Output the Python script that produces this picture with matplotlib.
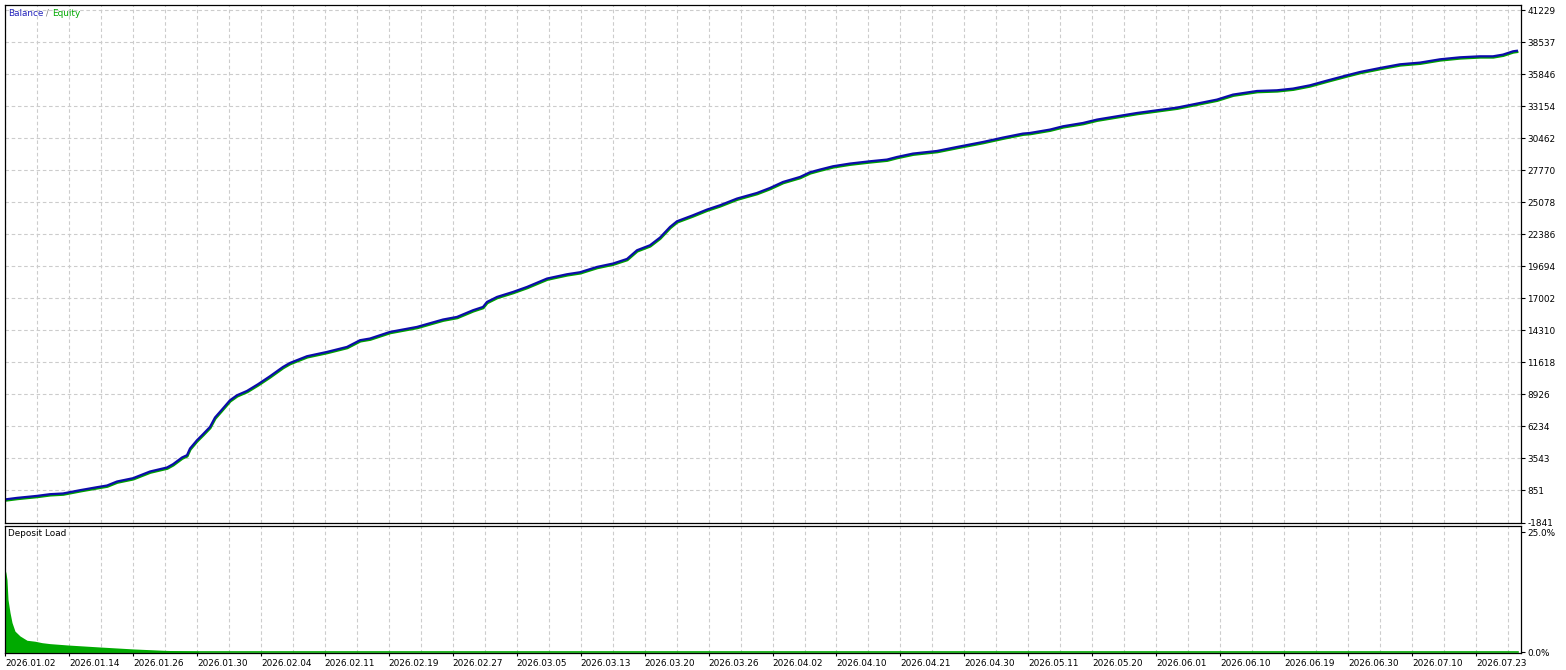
import numpy as np
import matplotlib
matplotlib.use("Agg")
import matplotlib.pyplot as plt
from matplotlib.transforms import ScaledTranslation

# ---------------- data ----------------
deal_no = [0, 12, 22, 32, 45, 58, 75, 92, 102, 112, 128, 145, 162, 168, 177, 182, 185,
           192, 198, 205, 210, 217, 225, 232, 242, 253, 265, 278, 285, 302, 322, 342,
           355, 365, 385, 412, 438, 452, 468, 478, 482, 492, 508, 522, 542, 562, 575,
           592, 608, 622, 632, 645, 655, 665, 672, 688, 702, 715, 732, 752, 765, 778,
           795, 805, 815, 828, 845, 865, 882, 892, 908, 932, 952, 978, 998, 1018,
           1025, 1045, 1058, 1078, 1092, 1112, 1132, 1152, 1172, 1192, 1212, 1228,
           1252, 1272, 1288, 1305, 1322, 1342, 1355, 1375, 1395, 1415, 1435, 1455,
           1475, 1488, 1498, 1508, 1513]
balance = [100, 229, 313, 397, 540, 600, 876, 1128, 1270, 1607, 1885, 2448, 2785, 3062,
           3625, 3820, 4382, 5080, 5584, 6198, 6988, 7660, 8440, 8860, 9224, 9788,
           10460, 11242, 11578, 12142, 12503, 12924, 13487, 13630, 14185, 14606,
           15227, 15446, 16009, 16287, 16707, 17127, 17547, 17968, 18673, 19035,
           19203, 19650, 19935, 20322, 21053, 21474, 22121, 23012, 23491, 23996,
           24474, 24836, 25400, 25871, 26291, 26795, 27216, 27610, 27838, 28115,
           28342, 28535, 28678, 28896, 29182, 29401, 29737, 30158, 30528, 30864,
           30915, 31200, 31478, 31755, 32041, 32318, 32596, 32822, 33049, 33385,
           33722, 34142, 34445, 34504, 34646, 34924, 35319, 35765, 36042, 36378,
           36689, 36832, 37109, 37277, 37361, 37361, 37504, 37781, 37840]
equity = balance

load_deal = [0, 1, 2, 3, 5, 7, 10, 15, 22, 30, 37, 45, 64, 95, 128, 160, 193, 194, 1513]
deposit_load = [17.3, 16.5, 15.1, 11.0, 8.3, 6.2, 4.4, 3.4, 2.5, 2.3, 2.0, 1.8, 1.5,
                1.1, 0.7, 0.4, 0.2, 0.0, 0.0]

date_labels = ["2026.01.02", "2026.01.14", "2026.01.26", "2026.01.30", "2026.02.04",
               "2026.02.11", "2026.02.19", "2026.02.27", "2026.03.05", "2026.03.13",
               "2026.03.20", "2026.03.26", "2026.04.02", "2026.04.10", "2026.04.21",
               "2026.04.30", "2026.05.11", "2026.05.20", "2026.06.01", "2026.06.10",
               "2026.06.19", "2026.06.30", "2026.07.10", "2026.07.23"]
y_ticks = [-1841, 851, 3543, 6234, 8926, 11618, 14310, 17002, 19694, 22386, 25078,
           27770, 30462, 33154, 35846, 38537, 41229]
load_ticks = [0.0, 25.0]

# ---------------- figure ----------------
W, H = 1566, 670
plt.rcParams['font.family'] = ['DejaVu Sans']
fig = plt.figure(figsize=(W / 100, H / 100), dpi=100)
fig.patch.set_facecolor('white')

L, R = 5, 1521
ax1 = fig.add_axes([L / W, 1 - 522.5 / H, (R - L) / W, 517.5 / H])
ax2 = fig.add_axes([L / W, 1 - 653 / H, (R - L) / W, 127.5 / H])

XMAX = 1516
step = 63.96
major = np.arange(len(date_labels)) * step
minor = major + step / 2
minor = minor[minor < XMAX]

grid_kw = dict(color='#cccccc', linewidth=0.8, linestyle=(0, (3.2, 2.4)))

for ax in (ax1, ax2):
    ax.set_xlim(0, XMAX)
    ax.set_xticks(major)
    ax.set_xticks(minor, minor=True)
    ax.tick_params(axis='x', which='minor', length=0)
    ax.grid(True, axis='x', which='both', **grid_kw)
    ax.yaxis.tick_right()
    ax.tick_params(axis='y', which='both', direction='out', length=3, width=0.8,
                   labelsize=6.4, pad=1.5, colors='black')
    for s in ax.spines.values():
        s.set_linewidth(0.9)
        s.set_color('black')
    ax.set_axisbelow(True)

# top panel
ax1.set_ylim(-1841, 41675)
ax1.set_yticks(y_ticks)
ax1.set_yticklabels([str(v) for v in y_ticks])
ax1.grid(True, axis='y', **grid_kw)
ax1.tick_params(axis='x', which='major', length=0, labelbottom=False)

off = ScaledTranslation(0.3 / 72, -0.9 / 72, fig.dpi_scale_trans)
ax1.plot(deal_no, equity, color='#00a000', linewidth=1.6,
         transform=ax1.transData + off, solid_capstyle='butt')
ax1.plot(deal_no, balance, color='#0c0cab', linewidth=1.6, solid_capstyle='butt')

# bottom panel
ax2.set_ylim(-0.15, 26.4)
ax2.set_yticks(load_ticks)
ax2.set_yticklabels(["0.0%", "25.0%"])
ax2.fill_between(load_deal, 0, deposit_load, color='#00aa00', linewidth=0)
ax2.plot(load_deal, [0] * len(load_deal), color='#00aa00', linewidth=1.2)
ax2.set_xticklabels(date_labels)
ax2.tick_params(axis='x', which='major', direction='out', length=2.5, width=0.8,
                labelsize=6.4, pad=2)
for lab in ax2.get_xticklabels():
    lab.set_horizontalalignment('left')

# legend-like texts
fig.canvas.draw()
rend = fig.canvas.get_renderer()
x0, yc = 8 / W, 1 - 13 / H
t1 = fig.text(x0, yc, "Balance", color='#2222bb', fontsize=6.4, va='center', ha='left')
bb = t1.get_window_extent(rend)
t2 = fig.text(bb.x1 / W, yc, " / ", color='#808080', fontsize=6.4, va='center', ha='left')
bb = t2.get_window_extent(rend)
fig.text(bb.x1 / W, yc, "Equity", color='#00a800', fontsize=6.4, va='center', ha='left')
fig.text(8 / W, 1 - 534 / H, "Deposit Load", color='black', fontsize=6.4,
         va='center', ha='left')

fig.savefig("out.png", dpi=100, facecolor='white')
